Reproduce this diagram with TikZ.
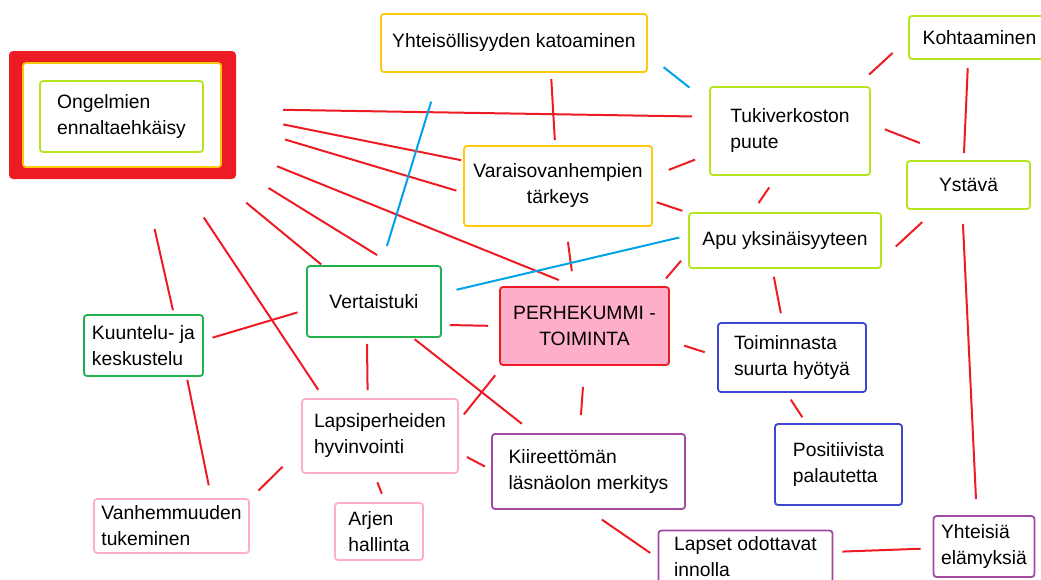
\documentclass[tikz,border=0pt]{standalone}
\usepackage{fontspec}
\setmainfont{Liberation Sans}
\usepackage{tikz}
\definecolor{linkred}{HTML}{ED1C24}
\definecolor{linkblue}{HTML}{00A2E8}
\definecolor{gold}{HTML}{FFC90E}
\definecolor{lime}{HTML}{B5E61D}
\definecolor{leaf}{HTML}{22B14C}
\definecolor{rose}{HTML}{FFAEC9}
\definecolor{indigo}{HTML}{3F48CC}
\definecolor{plum}{HTML}{A349A4}
\hyphenpenalty=10000

\begin{document}
\begin{tikzpicture}[x=1pt,y=1pt,yscale=-1,xscale=1,
    box/.style={draw, fill=white, line width=1.8pt, rounded corners=3pt, inner sep=0pt, align=left, font=\fontsize{19.3}{26}\selectfont},
    boxsize/.style 2 args={minimum width=#1pt, minimum height=#2pt},
    goldbox/.style={box, draw=gold},
    limebox/.style={box, draw=lime},
    leafbox/.style={box, draw=leaf},
    rosebox/.style={box, draw=rose},
    indigobox/.style={box, draw=indigo},
    plumbox/.style={box, draw=plum},
    redlink/.style={draw=linkred, line width=2pt},
    bluelink/.style={draw=linkblue, line width=2pt}]
        \useasboundingbox (0,0) rectangle (1041,579);
        %Shape: Rectangle (red frame)
        \node [fill=linkred, rounded corners=4pt, inner sep=0pt, boxsize={227}{128}] (ongFrame) at (122.5,115) {};
        \node [goldbox, boxsize={198}{104}] (ongMid) at (122,115) {};
        % Text Node
        \node [limebox, boxsize={163}{71}] (ong) at (121.5,116.5) {Ongelmien\\ennaltaehkäisy};
        \node [goldbox, boxsize={266}{58}] (yht) at (514,43) {Yhteisöllisyyden katoaminen};
        \node [limebox, boxsize={141}{43}] (koht) at (979.5,37.5) {Kohtaaminen};
        \node [limebox, boxsize={160}{88}] (tuki) at (790,131) {Tukiverkoston\\puute};
        \node [goldbox, align=center, boxsize={188}{80}] (vara) at (558,186) {Varaisovanhempien\\tärkeys};
        \node [limebox, boxsize={123}{48}] (ystava) at (968.5,185) {Ystävä};
        \node [limebox, boxsize={192}{55}] (apu) at (785,240.5) {Apu yksinäisyyteen};
        \node [leafbox, boxsize={134}{71}] (vert) at (374,301.5) {Vertaistuki};
        \node [box, draw=linkred, fill=rose, align=center, boxsize={169}{78}] (perhe) at (584.5,326) {PERHEKUMMI -\\TOIMINTA};
        \node [leafbox, boxsize={119}{61}] (kuun) at (143.5,345.5) {Kuuntelu- ja\\keskustelu};
        \node [rosebox, boxsize={156}{74}] (lapsi) at (380,436) {Lapsiperheiden\\hyvinvointi};
        \node [rosebox, boxsize={155}{54}] (vanh) at (171.5,526) {Vanhemmuuden\\tukeminen};
        \node [rosebox, boxsize={88}{57}] (arjen) at (379,531.5) {Arjen\\hallinta};
        \node [indigobox, boxsize={148}{69}] (toim) at (792,357.5) {Toiminnasta\\suurta hyötyä};
        \node [indigobox, boxsize={127}{81}] (posi) at (838.5,464.5) {Positiivista\\palautetta};
        \node [plumbox, boxsize={193}{75}] (kiir) at (588.5,471.5) {Kiireettömän\\läsnäolon merkitys};
        \node [plumbox, boxsize={174}{52}] (laps) at (745.5,556.5) {Lapset odottavat\\innolla};
        \node [plumbox, boxsize={101}{61}] (yhtei) at (984,546.5) {Yhteisiä\\elämyksiä};
        %Straight Lines
        \draw [redlink, shorten <=47pt, shorten >=17pt] (ongFrame.3) -- (tuki.170);
        \draw [redlink, shorten <=48pt, shorten >=2pt] (ongFrame.0) -- (vara.165);
        \draw [redlink, shorten <=51pt, shorten >=7pt] (ongFrame.-5) -- (vara.184);
        \draw [redlink, shorten <=44pt, shorten >=16pt] (ongFrame.-17) -- (perhe.105);
        \draw [redlink, shorten <=38pt, shorten >=19pt] (ongFrame.-25) -- (vert.62);
        \draw [redlink, shorten <=37pt, shorten >=1pt] (ongFrame.-34) -- (vert.145);
        \draw [redlink, shorten <=46pt, shorten >=10pt] (ongFrame.-49) -- (lapsi.146);
        \draw [redlink, shorten <=51pt, shorten >=4pt] (ongFrame.-72) -- (kuun.46);
        \draw [bluelink, shorten <=30pt, shorten >=20pt] (yht.202) -- (vert.79);
        \draw [redlink, shorten <=6pt, shorten >=5pt] (yht.-39) -- (vara.94);
        \draw [bluelink, shorten <=20pt, shorten >=25pt] (yht.-5) -- (tuki.161);
        \draw [redlink, shorten <=17pt, shorten >=15pt] (vara.6) -- (tuki.196);
        \draw [redlink, shorten <=4pt, shorten >=6pt] (vara.-9) -- (apu.164);
        \draw [redlink, shorten <=15pt, shorten >=15pt] (vara.-79) -- (perhe.105);
        \draw [bluelink, shorten <=9pt, shorten >=15pt] (apu.177) -- (vert.7);
        \draw [redlink, shorten <=11pt, shorten >=10pt] (apu.187) -- (perhe.28);
        \draw [redlink, shorten <=8pt, shorten >=11pt] (vert.-19) -- (perhe.180);
        \draw [redlink, shorten <=9pt, shorten >=9pt] (vert.187) -- (kuun.5);
        \draw [redlink, shorten <=17pt, shorten >=21pt] (tuki.34) -- (koht.181);
        \draw [redlink, shorten <=15pt, shorten >=47pt] (tuki.5) -- (ystava.101);
        \draw [redlink, shorten <=8pt, shorten >=7pt] (koht.243) -- (ystava.101);
        \draw [redlink, shorten <=14pt, shorten >=11pt] (tuki.254) -- (apu.139);
        \draw [redlink, shorten <=19pt, shorten >=18pt] (apu.-11) -- (ystava.217);
        \draw [redlink, shorten <=14pt, shorten >=16pt] (ystava.256) -- (yhtei.103);
        \draw [redlink, shorten <=3pt, shorten >=13pt] (kuun.-36) -- (vanh.35);
        \draw [redlink, shorten <=6pt, shorten >=8pt] (vert.259) -- (lapsi.108);
        \draw [redlink, shorten <=2pt, shorten >=15pt] (vert.-43) -- (kiir.145);
        \draw [redlink, shorten <=8pt, shorten >=12pt] (lapsi.11) -- (perhe.206);
        \draw [redlink, shorten <=9pt, shorten >=7pt] (lapsi.-12) -- (kiir.179);
        \draw [redlink, shorten <=26pt, shorten >=12pt] (lapsi.189) -- (vanh.19);
        \draw [redlink, shorten <=9pt, shorten >=9pt] (lapsi.261) -- (arjen.78);
        \draw [redlink, shorten <=21pt, shorten >=18pt] (perhe.270) -- (kiir.103);
        \draw [redlink, shorten <=15pt, shorten >=13pt] (perhe.-10) -- (toim.179);
        \draw [redlink, shorten <=8pt, shorten >=9pt] (apu.246) -- (toim.105);
        \draw [redlink, shorten <=8pt, shorten >=7pt] (toim.261) -- (posi.128);
        \draw [redlink, shorten <=17pt, shorten >=9pt] (kiir.269) -- (laps.181);
        \draw [redlink, shorten <=9pt, shorten >=12pt] (laps.3) -- (yhtei.182);
\end{tikzpicture}
\end{document}
